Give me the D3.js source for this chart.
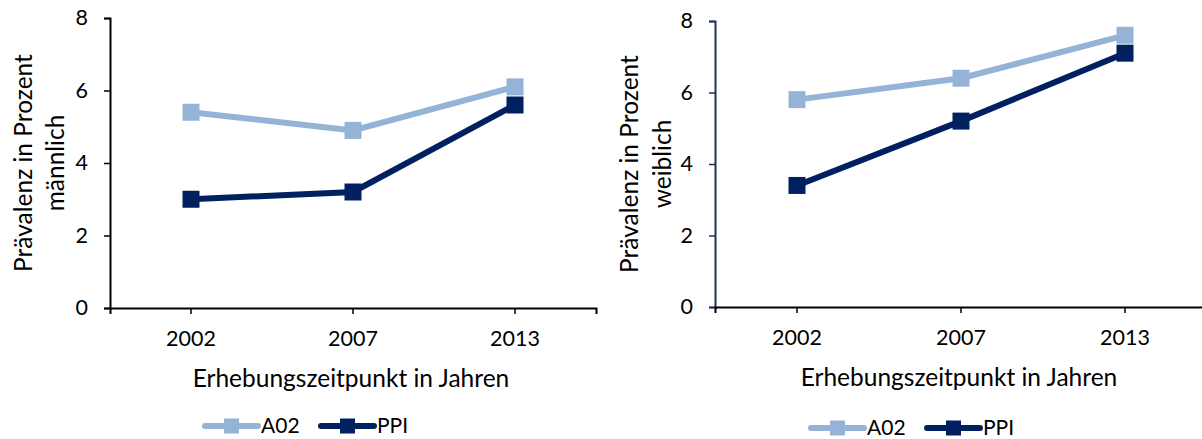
<!DOCTYPE html>
<html>
<head>
    <script src="https://cdnjs.cloudflare.com/ajax/libs/d3/7.8.5/d3.min.js"></script>
    <style>
        body { margin: 0; background: #fff; }
        text { font-family: Lato, "Open Sans", sans-serif; fill: #000; }
        .tick text { font-size: 21.5px; }
        .axis-title { font-size: 24.5px; }
        .legend text { font-size: 21px; }
    </style>
</head>
<body>
    <div id="chart"></div>
    <script>
        const width = 1202, height = 439;

        // data
        const years = ["2002", "2007", "2013"];
        const yTicks = [0, 2, 4, 6, 8];
        const maleA02 = [5.4, 4.9, 6.1];
        const malePPI = [3.0, 3.2, 5.6];
        const femaleA02 = [5.8, 6.4, 7.6];
        const femalePPI = [3.4, 5.2, 7.1];
        const seriesNames = ["A02", "PPI"];
        const colors = ["#95b3d7", "#002060"];

        const svg = d3.select("#chart").append("svg")
            .attr("width", width).attr("height", height);

        const panels = [
            { x0: 110, y0: 18, w: 486, h: 290, subtitle: "männlich", series: [maleA02, malePPI],
              axisColor: "#000", titleX: [32, 64], legendX: 205, legendY: 426 },
            { x0: 715, y0: 21, w: 492, h: 286, subtitle: "weiblich", series: [femaleA02, femalePPI],
              axisColor: "#1f2f5f", titleX: [638, 671], legendX: 811, legendY: 428 }
        ];

        panels.forEach(p => {
            const x = d3.scaleBand().domain(years).range([p.x0, p.x0 + p.w]);
            const y = d3.scaleLinear().domain([0, 8]).range([p.y0 + p.h, p.y0]);

            // y axis
            const ya = svg.append("g")
                .attr("transform", `translate(${p.x0},0)`)
                .call(d3.axisLeft(y).tickValues(yTicks).tickSize(6).tickPadding(16));
            ya.select(".domain").attr("stroke", p.axisColor).attr("stroke-width", 2);
            ya.selectAll(".tick line").attr("stroke", p.axisColor).attr("stroke-width", 1.5);

            // x axis
            const xa = svg.append("g")
                .attr("transform", `translate(0,${p.y0 + p.h})`)
                .call(d3.axisBottom(x).tickSize(6).tickSizeOuter(6).tickPadding(17));
            xa.select(".domain").attr("stroke", "#000").attr("stroke-width", 2);
            xa.selectAll(".tick line").attr("stroke", "#000").attr("stroke-width", 1.5);

            // axis titles
            svg.append("text").attr("class", "axis-title")
                .attr("text-anchor", "middle")
                .attr("x", p.x0 + p.w / 2 - 2).attr("y", p.y0 + p.h + 79)
                .text("Erhebungszeitpunkt in Jahren");

            const cy = p.y0 + p.h / 2;
            svg.append("text").attr("class", "axis-title")
                .attr("text-anchor", "middle")
                .attr("transform", `translate(${p.titleX[0]},${cy}) rotate(-90)`)
                .text("Prävalenz in Prozent");
            svg.append("text").attr("class", "axis-title")
                .attr("text-anchor", "middle")
                .attr("transform", `translate(${p.titleX[1]},${cy}) rotate(-90)`)
                .text(p.subtitle);

            // lines and markers
            const line = d3.line()
                .x((d, i) => x(years[i]) + x.bandwidth() / 2)
                .y(d => y(d));

            p.series.forEach((vals, si) => {
                svg.append("path")
                    .datum(vals)
                    .attr("fill", "none")
                    .attr("stroke", colors[si])
                    .attr("stroke-width", 6)
                    .attr("d", line);
                svg.append("g").selectAll("rect")
                    .data(vals)
                    .enter().append("rect")
                    .attr("x", (d, i) => x(years[i]) + x.bandwidth() / 2 - 8.5)
                    .attr("y", d => y(d) - 8.5)
                    .attr("width", 17).attr("height", 17)
                    .attr("fill", colors[si]);
            });

            // legend
            const lg = svg.append("g").attr("class", "legend")
                .attr("transform", `translate(${p.legendX},${p.legendY})`);
            seriesNames.forEach((name, i) => {
                const ox = i * 116;
                lg.append("line")
                    .attr("x1", ox).attr("x2", ox + 53)
                    .attr("y1", 0).attr("y2", 0)
                    .attr("stroke", colors[i]).attr("stroke-width", 6)
                    .attr("stroke-linecap", "round");
                lg.append("rect")
                    .attr("x", ox + 19).attr("y", -7.5)
                    .attr("width", 15).attr("height", 15)
                    .attr("fill", colors[i]);
                lg.append("text")
                    .attr("x", ox + 56).attr("y", 7)
                    .text(name);
            });
        });
    </script>
</body>
</html>
